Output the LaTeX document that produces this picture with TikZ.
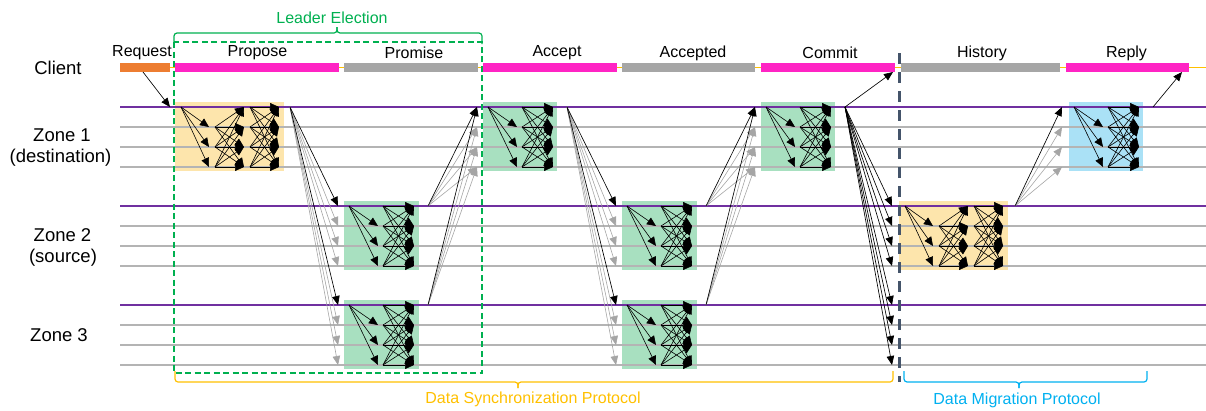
\documentclass[tikz,border=0pt]{standalone}
\usepackage{fontspec}
\setmainfont{Liberation Sans}
\usetikzlibrary{arrows.meta}
\definecolor{pinkbar}{RGB}{255,36,196}
\definecolor{graybar}{RGB}{166,166,166}
\definecolor{orbar}{RGB}{237,125,49}
\definecolor{goldc}{RGB}{255,192,0}
\definecolor{purplec}{RGB}{112,48,160}
\definecolor{lgray}{RGB}{180,180,180}
\definecolor{orbox}{RGB}{253,229,172}
\definecolor{grbox}{RGB}{168,224,192}
\definecolor{blbox}{RGB}{170,225,246}
\definecolor{greenc}{RGB}{0,176,80}
\definecolor{bluec}{RGB}{0,176,240}
\definecolor{slatec}{RGB}{68,84,106}
\definecolor{garrow}{RGB}{165,165,165}

\newcommand{\twostage}[3]{%
  \foreach \m/\dx in {0/5,1/34,2/39,3/70}{
    \foreach \i in {0,1,2,3}{
      \coordinate (#3-\m-\i) at ({#1+\dx},{#2+20*\i});
    }
  }
  \foreach \k in {1,2,3}{\draw[net] (#3-0-0) -- (#3-1-\k);}
  \foreach \i in {0,1,2,3}{\foreach \j in {0,1,2,3}{\draw[net] (#3-2-\i) -- (#3-3-\j);}}
}
\newcommand{\threestage}[3]{%
  \foreach \m/\dx in {0/6,1/34,2/40,3/69,4/75,5/104}{
    \foreach \i in {0,1,2,3}{
      \coordinate (#3-\m-\i) at ({#1+\dx},{#2+20*\i});
    }
  }
  \foreach \k in {1,2,3}{\draw[net] (#3-0-0) -- (#3-1-\k);}
  \foreach \i in {1,2,3}{\foreach \j in {0,1,2,3}{\draw[net] (#3-2-\i) -- (#3-3-\j);}}
  \foreach \i in {0,1,2,3}{\foreach \j in {0,1,2,3}{\draw[net] (#3-4-\i) -- (#3-5-\j);}}
}

\begin{document}
\begin{tikzpicture}[x=1pt,y=-1pt,
  net/.style={draw=black, line width=0.6pt, -{Triangle[length=9pt,width=8pt]}},
  fanb/.style={draw=black, line width=0.65pt, -{Triangle[length=9pt,width=7.5pt]}},
  fang/.style={draw=garrow, line width=0.6pt, -{Triangle[length=9pt,width=7.5pt]}},
  bar/.style={minimum height=9pt, inner sep=0pt, outer sep=0pt, anchor=west, draw=none},
  lbl/.style={font=\fontsize{16}{19}\selectfont, inner sep=0pt},
  zlbl/.style={font=\fontsize{18.5}{22}\selectfont, inner sep=0pt},
  zbox/.style={anchor=north west, minimum height=69pt, inner sep=0pt, outer sep=0pt, draw=none},
  pline/.style={draw=purplec, line width=1.2pt},
  gline/.style={draw=lgray, line width=1.8pt},
  goldline/.style={draw=goldc, line width=0.8pt},
  brace/.style={line width=1.2pt, rounded corners=3pt}
]
\useasboundingbox (0,0) rectangle (1206,410);

% ---------- labels on the left
\node[zlbl] (client) at (58,68) {Client};
\node[zlbl] (z1a) at (62,135) {Zone 1};
\node[zlbl] (z1b) at (60.5,158) {(destination)};
\node[zlbl] (z2a) at (62.5,235) {Zone 2};
\node[zlbl] (z2b) at (63,258) {(source)};
\node[zlbl] (z3a) at (59,335) {Zone 3};

% ---------- client time line
\coordinate (endR) at (1206,67.5);
\node[bar, fill=orbar, minimum width=50pt] (req) at (120,67.5) {};
\draw[goldline] (req.east) -- (endR);
\node[bar, fill=pinkbar, minimum width=164pt] (prop) at (175,67.5) {};
\node[bar, fill=graybar, minimum width=134pt] (prom) at (344,67.5) {};
\node[bar, fill=pinkbar, minimum width=134pt] (acc) at (483,67.5) {};
\node[bar, fill=graybar, minimum width=133pt] (accd) at (622,67.5) {};
\node[bar, fill=pinkbar, minimum width=134pt] (com) at (761,67.5) {};
\node[bar, fill=graybar, minimum width=159pt] (hist) at (901,67.5) {};
\node[bar, fill=pinkbar, minimum width=123pt] (rep) at (1066,67.5) {};

\node[lbl] (treq) at (142,53) {Request};
\node[lbl] (tprop) at (257.5,53) {Propose};
\node[lbl] (tprom) at (414,53) {Promise};
\node[lbl] (tacc) at (557,53) {Accept};
\node[lbl] (taccd) at (693,53) {Accepted};
\node[lbl] (tcom) at (830,53) {Commit};
\node[lbl] (thist) at (982,53) {History};
\node[lbl] (trep) at (1126.5,53) {Reply};

% ---------- shaded boxes
\node[zbox, fill=orbox, minimum width=109pt] (b1) at (175,102) {};
\node[zbox, fill=grbox, minimum width=75pt] (g2) at (344,201) {};
\node[zbox, fill=grbox, minimum width=75pt] (g3) at (344,300) {};
\node[zbox, fill=grbox, minimum width=74pt] (a1) at (483,102) {};
\node[zbox, fill=grbox, minimum width=75pt] (a2) at (622,201) {};
\node[zbox, fill=grbox, minimum width=75pt] (a3) at (622,300) {};
\node[zbox, fill=grbox, minimum width=74pt] (c1) at (761,102) {};
\node[zbox, fill=orbox, minimum width=109pt] (h2) at (899,201) {};
\node[zbox, fill=blbox, minimum width=74pt] (r1) at (1069,102) {};

% ---------- zone lines
\foreach \y in {107,206,305}{
  \draw[pline] (120,\y) -- (1206,\y);
  \foreach \k in {1,2,3}{\draw[gline] (120,{\y+20*\k}) -- (1206,{\y+20*\k});}
}

% ---------- networks inside the boxes
\threestage{175}{107}{nb1}
\twostage{344}{206}{ng2}
\twostage{344}{305}{ng3}
\twostage{483}{107}{na1}
\twostage{622}{206}{na2}
\twostage{622}{305}{na3}
\twostage{761}{107}{nc1}
\threestage{899}{206}{nh2}
\twostage{1069}{107}{nr1}

% ---------- coordinates for the fans
\coordinate (reqs) at (143,72);
\coordinate (reqt) at (170,107);
\coordinate (pps) at (290,107);
\coordinate (prs2) at (428,206);
\coordinate (prs3) at (428,305);
\coordinate (acs) at (567,107);
\coordinate (ads2) at (706,206);
\coordinate (ads3) at (706,305);
\coordinate (cms) at (845,107);
\coordinate (cmc) at (893,72);
\coordinate (hss) at (1015,206);
\coordinate (rps) at (1153,107);
\coordinate (rpc) at (1182,72);
\foreach \z/\n in {206/2,305/3}{
  \foreach \k in {0,1,2,3}{
    \coordinate (ppt\n\k) at (338,{\z+20*\k});
    \coordinate (act\n\k) at (616,{\z+20*\k});
    \coordinate (cmt\n\k) at (892,{\z+20*\k});
  }
}
\foreach \k in {0,1,2,3}{
  \coordinate (prt\k) at (477,{107+20*\k});
  \coordinate (adt\k) at (755,{107+20*\k});
  \coordinate (hst\k) at (1062,{107+20*\k});
}

% gray fan arrows
\foreach \n in {2,3}{\foreach \k in {1,2,3}{
  \draw[fang] (pps) -- (ppt\n\k);
  \draw[fang] (acs) -- (act\n\k);
}}
\foreach \k in {1,2,3}{
  \draw[fang] (prs2) -- (prt\k);
  \draw[fang] (prs3) -- (prt\k);
  \draw[fang] (ads2) -- (adt\k);
  \draw[fang] (ads3) -- (adt\k);
  \draw[fang] (hss) -- (hst\k);
}
% black fan arrows
\draw[fanb] (reqs) -- (reqt);
\foreach \n in {2,3}{
  \draw[fanb] (pps) -- (ppt\n0);
  \draw[fanb] (acs) -- (act\n0);
  \foreach \k in {0,1,2,3}{\draw[fanb] (cms) -- (cmt\n\k);}
}
\draw[fanb] (prs2) -- (prt0);
\draw[fanb] (prs3) -- (prt0);
\draw[fanb] (ads2) -- (adt0);
\draw[fanb] (ads3) -- (adt0);
\draw[fanb] (hss) -- (hst0);
\draw[fanb] (cms) -- (cmc);
\draw[fanb] (rps) -- (rpc);

% ---------- migration boundary
\coordinate (dvt) at (899,53);
\coordinate (dvb) at (899,382);
\draw[draw=slatec, line width=3pt, dash pattern=on 11pt off 8pt] (dvt) -- (dvb);

% ---------- leader election
\draw[draw=greenc, line width=1.2pt, dash pattern=on 6pt off 3.5pt] (174,42) rectangle (482,373);
\coordinate (leL) at (174,44);
\coordinate (leR) at (482,44);
\coordinate (leM) at (337,33);
\coordinate (leT) at (337,27);
\draw[brace, draw=greenc] (leL) |- (leM) -- (leT);
\draw[brace, draw=greenc] (leR) |- (leM) -- (leT);
\node[lbl, text=greenc] (tle) at (332,18) {Leader Election};

% ---------- data synchronization
\coordinate (dsL) at (175,371);
\coordinate (dsR) at (893,371);
\coordinate (dsM) at (518,382);
\coordinate (dsT) at (518,388);
\draw[brace, draw=goldc] (dsL) |- (dsM) -- (dsT);
\draw[brace, draw=goldc] (dsR) |- (dsM) -- (dsT);
\node[lbl, text=goldc] (tds) at (533,399) {Data Synchronization Protocol};

% ---------- data migration
\coordinate (dmL) at (904,371);
\coordinate (dmR) at (1147,371);
\coordinate (dmM) at (1019,382);
\coordinate (dmT) at (1019,388);
\draw[brace, draw=bluec] (dmL) |- (dmM) -- (dmT);
\draw[brace, draw=bluec] (dmR) |- (dmM) -- (dmT);
\node[lbl, text=bluec] (tdm) at (1017,400) {Data Migration Protocol};
\end{tikzpicture}
\end{document}
